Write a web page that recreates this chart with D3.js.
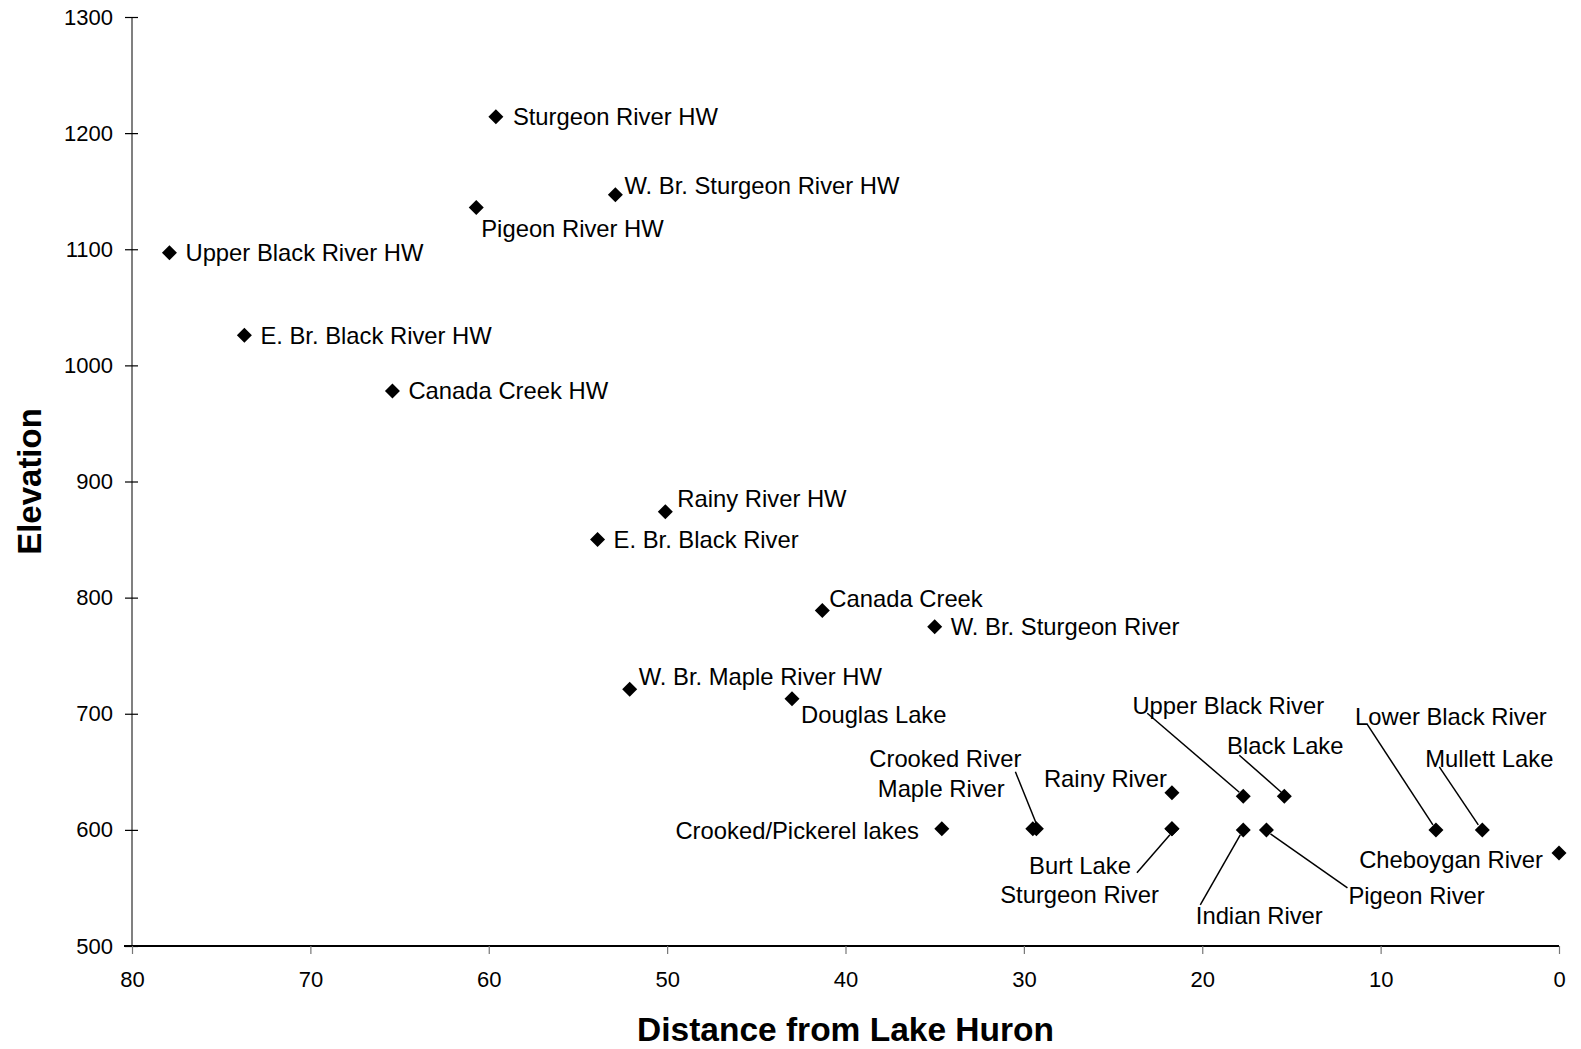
<!DOCTYPE html>
<html>
<head>
<meta charset="utf-8">
<script src="https://cdn.jsdelivr.net/npm/d3@7"></script>
<style>
  html, body { margin: 0; padding: 0; background: #fff; }
  svg { display: block; font-family: "Liberation Sans", Arial, sans-serif; }
</style>
</head>
<body>
<svg id="chart" width="1581" height="1049"></svg>
<script>
// ---- data ----
const names = [
  "Sturgeon River HW", "W. Br. Sturgeon River HW", "Pigeon River HW", "Upper Black River HW",
  "E. Br. Black River HW", "Canada Creek HW", "Rainy River HW", "E. Br. Black River",
  "Canada Creek", "W. Br. Sturgeon River", "W. Br. Maple River HW", "Douglas Lake",
  "Crooked/Pickerel lakes", "Crooked River", "Maple River", "Rainy River",
  "Burt Lake", "Sturgeon River", "Upper Black River", "Black Lake",
  "Indian River", "Pigeon River", "Lower Black River", "Mullett Lake", "Cheboygan River"
];
const distance = [
  59.6, 52.9, 60.7, 77.9,
  73.7, 65.4, 50.1, 53.9,
  41.3, 35.0, 52.1, 43.0,
  34.6, 29.3, 29.5, 21.7,
  21.7, 21.7, 17.7, 15.4,
  17.7, 16.4, 6.9, 4.3, 0
];
const elevation = [
  1214, 1147, 1136, 1097,
  1026, 978, 874, 850,
  789, 775, 721, 713,
  601, 601, 601, 632,
  601, 601, 629, 629,
  600, 600, 600, 600, 580
];
const xTicks = [80, 70, 60, 50, 40, 30, 20, 10, 0];
const yTicks = [500, 600, 700, 800, 900, 1000, 1100, 1200, 1300];
const xTitle = "Distance from Lake Huron";
const yTitle = "Elevation";

// ---- label layout (pixel offsets from the marker) ----
const labelLayout = {
  "Sturgeon River HW":        {a: "start", dx: 17, dy: 0},
  "W. Br. Sturgeon River HW": {a: "start", dx: 9, dy: -9},
  "Pigeon River HW":          {a: "start", dx: 5, dy: 21},
  "Upper Black River HW":     {a: "start", dx: 16, dy: 0},
  "E. Br. Black River HW":    {a: "start", dx: 16, dy: 0},
  "Canada Creek HW":          {a: "start", dx: 16, dy: 0},
  "Rainy River HW":           {a: "start", dx: 12, dy: -13},
  "E. Br. Black River":       {a: "start", dx: 16, dy: 0},
  "Canada Creek":             {a: "start", dx: 7, dy: -12},
  "W. Br. Sturgeon River":    {a: "start", dx: 16, dy: 0},
  "W. Br. Maple River HW":    {a: "start", dx: 9, dy: -13},
  "Douglas Lake":             {a: "start", dx: 9, dy: 16},
  "Crooked/Pickerel lakes":   {a: "end", dx: -23, dy: 2},
  "Crooked River":            {a: "end", dx: -15, dy: -70, line: [-21, -57, 0, -5]},
  "Maple River":              {a: "end", dx: -28, dy: -40},
  "Rainy River":              {a: "end", dx: -5, dy: -14},
  "Burt Lake":                {a: "end", dx: -41, dy: 37, line: [-35, 44, -2, 6]},
  "Sturgeon River":           {a: "end", dx: -13, dy: 66},
  "Upper Black River":        {a: "middle", dx: -15, dy: -91, line: [-96, -83, -4, -4]},
  "Black Lake":               {a: "middle", dx: 1, dy: -51, line: [-45, -41, -3, -4]},
  "Indian River":             {a: "middle", dx: 16, dy: 86, line: [-43, 75, -3, 5]},
  "Pigeon River":             {a: "start", dx: 82, dy: 66, line: [4, 4, 81, 58]},
  "Lower Black River":        {a: "middle", dx: 15, dy: -113, line: [-69, -106, -3, -5]},
  "Mullett Lake":             {a: "middle", dx: 7, dy: -71, line: [-43, -63, -4, -5]},
  "Cheboygan River":          {a: "end", dx: -16, dy: 7}
};

const points = names.map((n, i) => ({name: n, x: distance[i], y: elevation[i]}));

const svg = d3.select("#chart");
const mLeft = 132, mRight = 1559, mTop = 17, mBottom = 946;
const x = d3.scaleLinear().domain([80, 0]).range([mLeft, mRight]);
const y = d3.scaleLinear().domain([500, 1300]).range([mBottom, mTop]);

// y axis
const yAxis = svg.append("g").attr("transform", `translate(${mLeft},0)`)
  .call(d3.axisLeft(y).tickValues(yTicks).tickSize(7).tickPadding(12).tickFormat(d3.format("d")));
yAxis.select(".domain").attr("stroke", "#808080").attr("stroke-width", 2).attr("d", `M0,${mTop}V${mBottom}`);
yAxis.selectAll(".tick line").attr("stroke", "#000").attr("stroke-width", 1.2).attr("x1", -7).attr("x2", 6);
yAxis.selectAll(".tick text").attr("font-size", 22).attr("fill", "#000").attr("font-family", "Liberation Sans, Arial, sans-serif");

// x axis
const xAxis = svg.append("g").attr("transform", `translate(0,${mBottom})`)
  .call(d3.axisBottom(x).tickValues(xTicks).tickSize(8).tickPadding(17).tickFormat(d3.format("d")));
xAxis.select(".domain").attr("stroke", "#000").attr("stroke-width", 2).attr("d", `M${mLeft - 8},0H${mRight}`);
xAxis.selectAll(".tick line").attr("stroke", "#777").attr("stroke-width", 1.2);
xAxis.selectAll(".tick text").attr("font-size", 22).attr("fill", "#000").attr("font-family", "Liberation Sans, Arial, sans-serif");

// axis titles
svg.append("text").attr("x", (mLeft + mRight) / 2).attr("y", 1041)
  .attr("text-anchor", "middle").attr("font-size", 33.5).attr("font-weight", "bold").text(xTitle);
svg.append("text").attr("transform", `translate(41,${(mTop + mBottom) / 2}) rotate(-90)`)
  .attr("text-anchor", "middle").attr("font-size", 33).attr("font-weight", "bold").text(yTitle);

// leader lines
const lg = svg.append("g");
points.forEach(p => {
  const L = labelLayout[p.name];
  if (L && L.line) {
    const px = x(p.x), py = y(p.y);
    lg.append("line")
      .attr("x1", px + L.line[0]).attr("y1", py + L.line[1])
      .attr("x2", px + L.line[2]).attr("y2", py + L.line[3])
      .attr("stroke", "#000").attr("stroke-width", 1.5);
  }
});

// markers
const s = 7.5;
svg.append("g").selectAll("path").data(points).join("path")
  .attr("d", `M0,${-s}L${s},0L0,${s}L${-s},0Z`)
  .attr("transform", d => `translate(${x(d.x)},${y(d.y)})`)
  .attr("fill", "#000");

// labels
svg.append("g").selectAll("text").data(points).join("text")
  .attr("x", d => x(d.x) + labelLayout[d.name].dx)
  .attr("y", d => y(d.y) + labelLayout[d.name].dy)
  .attr("dy", "0.35em")
  .attr("text-anchor", d => labelLayout[d.name].a)
  .attr("font-size", 23.8)
  .attr("fill", "#000")
  .text(d => d.name);
</script>
</body>
</html>
